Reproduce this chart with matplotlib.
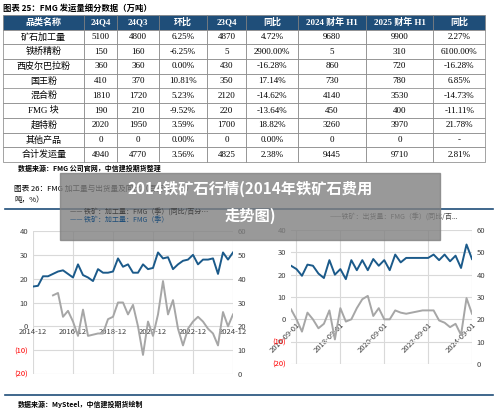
import numpy as np
import matplotlib.pyplot as plt
from matplotlib.patches import Rectangle

plt.rcParams['font.family'] = ['Noto Sans CJK SC', 'DejaVu Sans']

# table data
header = ['品类名称', '24Q4', '24Q3', '环比', '23Q4', '同比', '2024 财年 H1', '2025 财年 H1', '同比']
rows = [
    ['矿石加工量', '5100', '4800', '6.25%', '4870', '4.72%', '9680', '9900', '2.27%'],
    ['铁桥精粉', '150', '160', '-6.25%', '5', '2900.00%', '5', '310', '6100.00%'],
    ['西皮尔巴拉粉', '360', '360', '0.00%', '430', '-16.28%', '860', '720', '-16.28%'],
    ['国王粉', '410', '370', '10.81%', '350', '17.14%', '730', '780', '6.85%'],
    ['混合粉', '1810', '1720', '5.23%', '2120', '-14.62%', '4140', '3530', '-14.73%'],
    ['FMG 块', '190', '210', '-9.52%', '220', '-13.64%', '450', '400', '-11.11%'],
    ['超特粉', '2020', '1950', '3.59%', '1700', '18.82%', '3260', '3970', '21.78%'],
    ['其他产品', '0', '0', '0.00%', '0', '0.00%', '0', '0', '-'],
    ['合计发运量', '4940', '4770', '3.56%', '4825', '2.38%', '9445', '9710', '2.81%'],
]
col_w = [82, 33, 42, 48, 40, 52, 68, 68, 52]

# left chart: processing volume (quarterly 2014-12 .. 2024-12)
left_ticks = ['2014-12', '2016-12', '2018-12', '2020-12', '2022-12', '2024-12']
left_blue = [16.7, 17, 21, 21, 22, 23, 23.5, 22, 20.5, 26, 21.5, 20.5, 19, 24, 22.5, 22.5,
             23, 28.5, 25, 26, 22.5, 22.5, 26, 24, 24.5, 31, 28.5, 29, 24, 26, 27.5, 28,
             30, 26, 28, 28, 28.5, 22, 31, 28, 31]
left_grey = [13, 14, 4, 6.5, 2, -4, 7, -4, -3.5, -3, -3, 3, 4, 10, 10, 5, 9, 0, -12, 2,
             -4, 5, 19, 5, 11, -1, -8, -1, 2, 4, 2, -1, -3, -8, 6, 0, 5]
left_grey_start = 4

# right chart: shipments (quarterly 2016-09 .. 2024-12)
right_ticks = ['2016-09-01', '2018-09-01', '2020-09-01', '2022-09-01', '2024-09-01']
right_blue = [24, 22.5, 19.5, 24.5, 24, 20.5, 18.5, 26.5, 20, 22.5, 18, 26.5, 22, 26.5, 22,
              27, 24, 26.5, 22, 29, 25.5, 27.5, 27.5, 27.5, 27.5, 27.5, 29, 26.5, 29, 26,
              28.5, 23, 33.5, 27]
right_grey = [4.5, 0, -5.5, 3, 0, -4, -2, 4, -9, 5, -1, 0, 5, 9, 10.5, 1.5, 5, 0, 0, 4,
              3, 2.5, 3, 3.5, 4, 4, 4, -0.5, -1.5, -3.5, -2, -7, 9.5, 2.5]

W, H = 500, 413
fig = plt.figure(figsize=(5, 4.13), dpi=100)
navy = '#1f4e79'
blue = '#1b5a8a'
grey = '#a6a6a6'


def box(x, y, w, h):
    return [x / W, 1 - (y + h) / H, w / W, h / H]


fig.text(3 / W, 1 - 8 / H, '图表 25：FMG 发运量细分数据（万吨）', fontsize=6, va='center', weight='bold')

# table
tax = fig.add_axes(box(3, 15, 482, 147))
tax.axis('off')
tb = tax.table(cellText=rows, colLabels=header, bbox=[0, 0, 1, 1], cellLoc='center',
               colWidths=[w / sum(col_w) for w in col_w])
tb.auto_set_font_size(False)
for (r, c), cell in tb.get_celld().items():
    cell.set_linewidth(0.5)
    cell.set_edgecolor('#7f7f7f')
    cell.get_text().set_fontsize(6.5)
    cell.get_text().set_family(['Liberation Serif', 'Noto Sans CJK SC'])
    if r == 0:
        cell.set_facecolor(navy)
        cell.get_text().set_color('white')
        cell.get_text().set_weight('bold')

fig.text(18 / W, 1 - 168 / H, '数据来源：FMG 公司官网，中信建投期货整理', fontsize=5, va='center',
         style='italic', weight='bold')
fig.text(14 / W, 1 - 189 / H, '图表 26：FMG 加工量与出货量及同比（百万吨，%）', fontsize=5.5, va='center')
fig.text(14 / W, 1 - 200 / H, '吨，%）', fontsize=5.5, va='center')
fig.add_artist(plt.Line2D([5 / W, 493 / W], [1 - 209 / H] * 2, color=navy, lw=1.2))
fig.add_artist(plt.Line2D([5 / W, 493 / W], [1 - 395 / H] * 2, color=navy, lw=1.2))
fig.text(18 / W, 1 - 404 / H, '数据来源：MySteel，中信建投期货绘制', fontsize=5, va='center',
         style='italic', weight='bold')


def chart(rect, blue_vals, grey_vals, grey_start, ticks, tick_step, rot):
    ax = fig.add_axes(box(*rect))
    ax2 = ax.twinx()
    ax.spines['bottom'].set_position(('data', 0))
    n = len(blue_vals)
    x = np.arange(n)
    ax2.plot(x, np.array(blue_vals) + 20, color=blue, lw=1.4)
    ax.plot(np.arange(grey_start, grey_start + len(grey_vals)), grey_vals, color=grey, lw=1.4)
    ax.set_ylim(-20, 40)
    ax2.set_ylim(0, 60)
    ax.set_xlim(0, n - 1)
    ax.set_yticks(range(-20, 41, 10))
    ax.set_yticklabels(['(20)', '(10)', '0', '10', '20', '30', '40'], fontsize=5.5)
    for t in ax.get_yticklabels()[:2]:
        t.set_color('red')
    ax2.set_yticks(range(0, 61, 10))
    ax2.tick_params(labelsize=5.5, length=0, colors='#404040')
    ax.tick_params(axis='y', length=0, labelcolor='#404040')
    ax.tick_params(axis='x', length=0, labelsize=5.5, labelcolor='#404040', pad=1)
    ax.set_xticks(np.arange(len(ticks)) * tick_step + (n - 1 - (len(ticks) - 1) * tick_step))
    ax.set_xticklabels(ticks, rotation=rot, ha='right' if rot else 'center',
                       rotation_mode='anchor' if rot else 'default')
    for t in ax.get_yticklabels()[:2]:
        t.set_color('red')
    ax.grid(color='#d9d9d9', lw=0.8)
    for s in list(ax.spines.values()) + list(ax2.spines.values()):
        s.set_visible(False)
    return ax


chart((33, 231, 200, 143), left_blue, left_grey, left_grey_start, left_ticks, 8, 0)
chart((291, 230, 181, 134), right_blue, right_grey, 0, right_ticks, 8, 45)

fig.text(330 / W, 1 - 217 / H, '——铁矿：出货量：FMG（季）(同比/百...', fontsize=5, va='center', color='#404040')

# overlay banner
fig.add_artist(Rectangle((60 / W, 1 - 240 / H), 380 / W, 67 / H, transform=fig.transFigure,
                         color='#808080', alpha=0.8, zorder=10))
fig.text(250 / W, 1 - 189 / H, '2014铁矿石行情(2014年铁矿石费用', fontsize=11, color='white',
         weight='bold', ha='center', va='center', zorder=11)
fig.text(250 / W, 1 - 216 / H, '走势图)', fontsize=11, color='white', weight='bold',
         ha='center', va='center', zorder=11)
fig.text(70 / W, 1 - 212 / H, '—— 铁矿：加工量：FMG（季）(同比/百分…', fontsize=5, va='center',
         color='#404040', zorder=11)
fig.text(70 / W, 1 - 220 / H, '—— 铁矿：加工量：FMG（季）', fontsize=5, va='center', color=navy, zorder=11)

fig.savefig('out.png', dpi=100)
